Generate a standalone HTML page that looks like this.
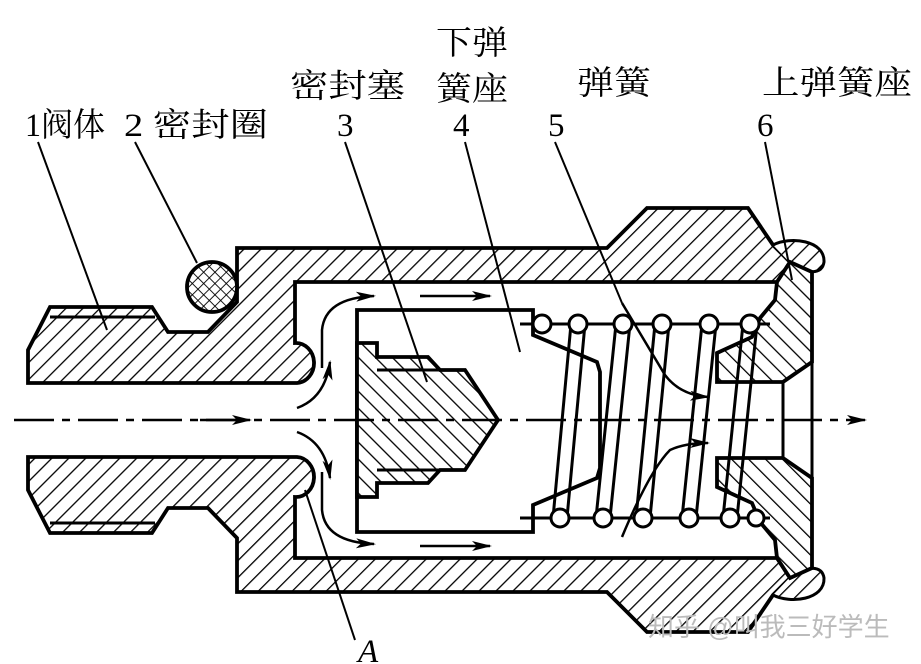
<!DOCTYPE html>
<html><head><meta charset="utf-8"><style>
html,body{margin:0;padding:0;background:#fff;}
svg{display:block;}
.t{font-family:"Liberation Serif","Noto Serif CJK SC",serif;font-size:33px;fill:#000;}
</style></head><body>
<svg width="921" height="664" viewBox="0 0 921 664" xmlns="http://www.w3.org/2000/svg">
<defs>
<pattern id="h1" patternUnits="userSpaceOnUse" width="12" height="12" patternTransform="rotate(45)">
<rect width="12" height="12" fill="#fff"/><line x1="0" y1="0" x2="0" y2="12" stroke="#000" stroke-width="2.6"/></pattern>
<pattern id="h2" patternUnits="userSpaceOnUse" width="12" height="12" patternTransform="rotate(-45)">
<rect width="12" height="12" fill="#fff"/><line x1="0" y1="0" x2="0" y2="12" stroke="#000" stroke-width="2.6"/></pattern>
<pattern id="xh" patternUnits="userSpaceOnUse" width="8" height="8" patternTransform="rotate(45)">
<rect width="8" height="8" fill="#fff"/><line x1="0" y1="0" x2="0" y2="8" stroke="#000" stroke-width="1.8"/><line x1="0" y1="0" x2="8" y2="0" stroke="#000" stroke-width="1.8"/></pattern>
<marker id="ar" viewBox="0 0 20 10" refX="18" refY="5" markerWidth="20" markerHeight="10" markerUnits="userSpaceOnUse" orient="auto">
<path d="M0,0 L20,5 L0,10 L5,5 Z" fill="#000"/></marker>
</defs>

<g stroke="#000" stroke-width="3.8" stroke-linejoin="miter" fill="url(#h1)">
<path d="M28,350 L50,307 L152,307 L168,332 L208,332 L237,302 L237,248 L607,248 L647,208 L748,208 L773,245 L790,262 L777,282 L295,282 L295,343 A18,20 0 0 1 297,383 L28,383 Z"/>
<path d="M28,490 L50,533 L152,533 L168,508 L208,508 L237,538 L237,592 L607,592 L647,632 L748,632 L773,595 L790,578 L777,558 L295,558 L295,497 A18,20 0 0 0 297,457 L28,457 Z"/>
</g>
<line x1="50" y1="317" x2="155" y2="317" stroke="#000" stroke-width="3"/>
<line x1="50" y1="523" x2="155" y2="523" stroke="#000" stroke-width="3"/>

<path d="M773,245 C790,236 825,240 824,262 C822,276 805,272 795,268" fill="url(#h1)" stroke="#000" stroke-width="3"/>
<path d="M773,595 C790,604 825,600 824,578 C822,564 805,568 795,572" fill="url(#h1)" stroke="#000" stroke-width="3"/>

<g stroke="#000" stroke-width="3.8" fill="url(#h2)">
<path d="M790,262 L812,272 L812,362 L783,382 L717,382 L717,353 L752,337 L760,318 L775,300 L777,282 Z"/>
<path d="M790,578 L812,568 L812,478 L783,458 L717,458 L717,487 L752,503 L760,522 L775,540 L777,558 Z"/>
</g>
<line x1="812" y1="362" x2="812" y2="478" stroke="#000" stroke-width="3"/>
<line x1="783" y1="382" x2="783" y2="458" stroke="#000" stroke-width="3"/>

<circle cx="212" cy="287" r="25" fill="url(#xh)" stroke="#000" stroke-width="3.8"/>

<path d="M357,310 L533,310 L533,335 L597,362 L600,372 L600,468 L597,478 L533,505 L533,532 L357,532 Z" fill="#fff" stroke="#000" stroke-width="3.8"/>

<path d="M357,343 L377,343 L377,357 L428,357 L440,370 L465,370 L498,420 L465,470 L440,470 L428,483 L377,483 L377,497 L357,497 Z" fill="url(#h2)" stroke="#000" stroke-width="3.8"/>
<line x1="377" y1="370" x2="440" y2="370" stroke="#000" stroke-width="3"/>
<line x1="377" y1="470" x2="440" y2="470" stroke="#000" stroke-width="3"/>

<g stroke="#000" stroke-width="3" fill="none">
<line x1="520" y1="324" x2="770" y2="324"/>
<line x1="520" y1="518" x2="770" y2="518"/>
<line x1="571" y1="324" x2="553" y2="518"/><line x1="585" y1="324" x2="567" y2="518"/>
<line x1="616" y1="324" x2="596" y2="518"/><line x1="630" y1="324" x2="610" y2="518"/>
<line x1="655" y1="324" x2="636" y2="518"/><line x1="669" y1="324" x2="650" y2="518"/>
<line x1="702" y1="324" x2="682" y2="518"/><line x1="716" y1="324" x2="696" y2="518"/>
<line x1="743" y1="324" x2="723" y2="518"/><line x1="757" y1="324" x2="737" y2="518"/>
</g>
<g stroke="#000" stroke-width="3" fill="#fff">
<circle cx="542" cy="324" r="9"/><circle cx="578" cy="324" r="9"/><circle cx="623" cy="324" r="9"/>
<circle cx="662" cy="324" r="9"/><circle cx="709" cy="324" r="9"/><circle cx="750" cy="324" r="9"/>
<circle cx="560" cy="518" r="9"/><circle cx="603" cy="518" r="9"/><circle cx="643" cy="518" r="9"/>
<circle cx="689" cy="518" r="9"/><circle cx="730" cy="518" r="9"/><circle cx="756" cy="518" r="8"/>
</g>

<line x1="14" y1="420" x2="865" y2="420" stroke="#000" stroke-width="2.5" stroke-dasharray="40,8,8,8" marker-end="url(#ar)"/>
<line x1="200" y1="420" x2="250" y2="420" stroke="#000" stroke-width="2.5" marker-end="url(#ar)"/>

<g stroke="#000" stroke-width="2.5" fill="none" marker-end="url(#ar)">
<path d="M297,408 Q325,398 330,362"/>
<path d="M297,432 Q325,442 330,478"/>
<path d="M322,368 L322,330 Q325,298 374,296"/>
<path d="M322,472 L322,510 Q325,542 374,544"/>
<line x1="420" y1="296" x2="490" y2="296"/>
<line x1="420" y1="546" x2="490" y2="546"/>
<path d="M622,303 Q650,350 665,375 Q680,395 708,397"/>
<path d="M622,537 Q650,470 670,450 Q685,443 708,443"/>
</g>

<g stroke="#000" stroke-width="2">
<line x1="38" y1="142" x2="107" y2="330"/>
<line x1="135" y1="142" x2="197" y2="263"/>
<line x1="345" y1="142" x2="427" y2="382"/>
<line x1="465" y1="142" x2="520" y2="352"/>
<line x1="555" y1="142" x2="622" y2="303"/>
<line x1="765" y1="142" x2="792" y2="280"/>
<line x1="305" y1="490" x2="355" y2="640"/>
</g>

<text class="t" x="25" y="136" textLength="80" lengthAdjust="spacingAndGlyphs">1阀体</text>
<text class="t" x="124" y="136" textLength="144" lengthAdjust="spacingAndGlyphs">2 密封圈</text>
<text class="t" x="290" y="97" textLength="115" lengthAdjust="spacingAndGlyphs">密封塞</text>
<text class="t" x="436" y="54" textLength="72" lengthAdjust="spacingAndGlyphs">下弹</text>
<text class="t" x="436" y="100" textLength="72" lengthAdjust="spacingAndGlyphs">簧座</text>
<text class="t" x="577" y="94" textLength="74" lengthAdjust="spacingAndGlyphs">弹簧</text>
<text class="t" x="762" y="94" textLength="150" lengthAdjust="spacingAndGlyphs">上弹簧座</text>
<text class="t" x="337" y="136">3</text>
<text class="t" x="453" y="136">4</text>
<text class="t" x="548" y="136">5</text>
<text class="t" x="757" y="136">6</text>
<text class="t" x="358" y="662" font-style="italic" font-size="28">A</text>
<text x="648" y="636" font-family="Liberation Sans,'Noto Sans CJK SC',sans-serif" font-size="26" fill="#bbb">知乎 @叫我三好学生</text>
</svg>
</body></html>
